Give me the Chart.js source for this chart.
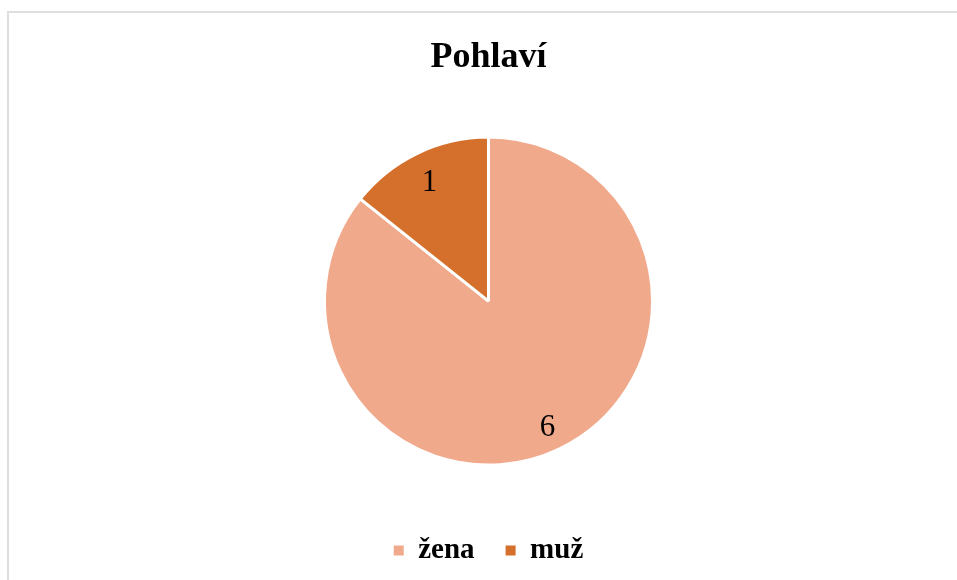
<!DOCTYPE html>
<html>
<head>
<meta charset="utf-8">
<script src="https://cdn.jsdelivr.net/npm/chart.js@4/dist/chart.umd.min.js"></script>
<style>
  html, body { margin: 0; padding: 0; background: #fff; }
  #wrap { position: relative; width: 957px; height: 580px; overflow: hidden; }
  #frame { position: absolute; left: 7px; top: 11px; width: 1000px; height: 600px;
           border-left: 2px solid #dedede; border-top: 2px solid #dedede; }
  canvas { position: absolute; left: 0; top: 0; }
</style>
</head>
<body>
<div id="wrap">
  <div id="frame"></div>
  <canvas id="pieChart" width="957" height="580"></canvas>
</div>
<script>
// data
const categories = ['žena', 'muž'];
const counts = [6, 1];
const colors = ['#F1A98B', '#D46F2C'];
const chartTitle = 'Pohlaví';

const serif = '"Liberation Serif", "Times New Roman", serif';

// hodnoty do výsečí
const sliceLabels = {
  id: 'sliceLabels',
  afterDatasetsDraw(chart) {
    const ctx = chart.ctx;
    const meta = chart.getDatasetMeta(0);
    ctx.save();
    ctx.font = '31px ' + serif;
    ctx.fillStyle = '#000';
    ctx.textAlign = 'center';
    ctx.textBaseline = 'middle';
    meta.data.forEach((arc, i) => {
      const p = arc.getProps(['x', 'y', 'startAngle', 'endAngle', 'outerRadius'], true);
      const mid = (p.startAngle + p.endAngle) / 2;
      const r = p.outerRadius * 0.83;
      ctx.fillText(String(counts[i]), p.x + Math.cos(mid) * r, p.y + Math.sin(mid) * r + 4);
    });
    ctx.restore();
  }
};

new Chart(document.getElementById('pieChart'), {
  type: 'pie',
  data: {
    labels: categories,
    datasets: [{
      data: counts,
      backgroundColor: colors,
      borderColor: '#fff',
      borderWidth: 3,
      radius: 164
    }]
  },
  options: {
    responsive: false,
    animation: false,
    layout: { padding: { left: 20, bottom: 5 } },
    plugins: {
      title: {
        display: true,
        text: chartTitle,
        color: '#000',
        font: { family: serif, size: 36, weight: 'bold' },
        padding: { top: 36, bottom: 18 }
      },
      legend: {
        position: 'bottom',
        labels: {
          color: '#000',
          font: { family: serif, size: 29, weight: 'bold' },
          boxWidth: 10,
          boxHeight: 10,
          padding: 31,
          generateLabels(chart) {
            return Chart.overrides.pie.plugins.legend.labels.generateLabels(chart)
              .map(l => ({ ...l, lineWidth: 0 }));
          }
        }
      },
      tooltip: { enabled: false }
    }
  },
  plugins: [sliceLabels]
});
</script>
</body>
</html>
